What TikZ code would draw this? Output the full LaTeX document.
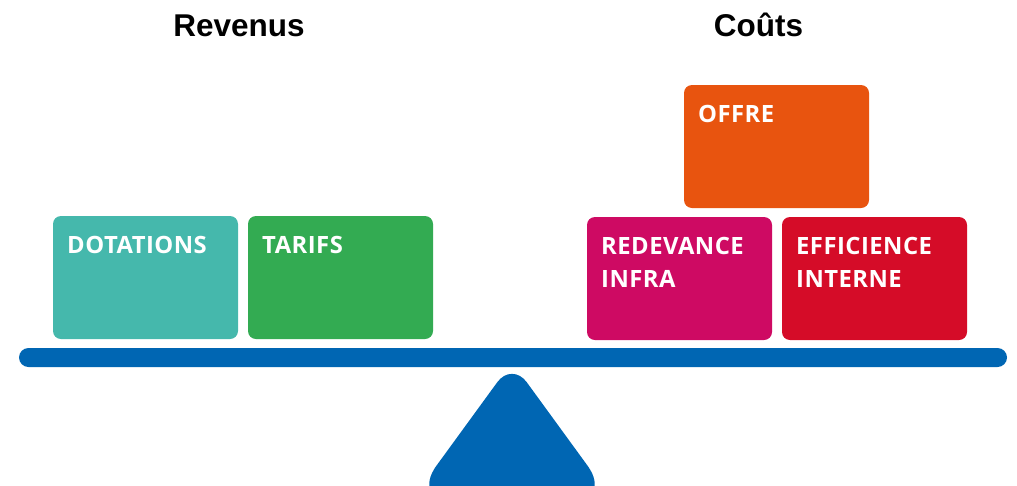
\documentclass[tikz,border=0pt]{standalone}
\usepackage{fontspec}
\setmainfont{Liberation Sans}
\newfontfamily\boxfont[LetterSpace=2]{Open Sans}
\definecolor{cteal}{HTML}{45B8AC}
\definecolor{cgreen}{HTML}{33AB52}
\definecolor{corange}{HTML}{E8540F}
\definecolor{cmagenta}{HTML}{CE0A63}
\definecolor{cred}{HTML}{D50C28}
\definecolor{cblue}{HTML}{0066B3}
\begin{document}
\begin{tikzpicture}[x=1pt,y=-1pt,
  block/.style={rounded corners=8pt, inner sep=0pt, outer sep=0pt,
    minimum width=185pt, minimum height=123pt},
  blocktext/.style={anchor=north west, inner sep=0pt, text=white,
    font=\boxfont\bfseries\fontsize{23.8}{33}\selectfont, align=left},
  title/.style={anchor=base, inner sep=0pt,
    font=\bfseries\fontsize{31.5}{36}\selectfont}]
\useasboundingbox (0,0) rectangle (1017,485);
% titles
\node[title] (trev) at (239,36) {Revenus};
\node[title] (tcout) at (758.5,36) {Coûts};
% blocks
\node[block, fill=cteal, anchor=north west] (dot) at (53,216) {};
\node[block, fill=cgreen, anchor=north west] (tar) at (248,216) {};
\node[block, fill=corange, anchor=north west] (off) at (684,85) {};
\node[block, fill=cmagenta, anchor=north west] (red) at (587,217) {};
\node[block, fill=cred, anchor=north west] (eff) at (782,217) {};
% texts
\node[blocktext] (tdot) at ([xshift=14pt,yshift=-20pt]dot.north west) {DOTATIONS};
\node[blocktext] (ttar) at ([xshift=14pt,yshift=-20pt]tar.north west) {TARIFS};
\node[blocktext] (toff) at ([xshift=14pt,yshift=-20pt]off.north west) {OFFRE};
\node[blocktext] (tred) at ([xshift=14pt,yshift=-20pt]red.north west) {REDEVANCE\\INFRA};
\node[blocktext] (teff) at ([xshift=14pt,yshift=-20pt]eff.north west) {EFFICIENCE\\INTERNE};
% beam
\fill[cblue, rounded corners=9.5pt] (19,348) rectangle (1007,367);
% fulcrum
\fill[cblue] (461,432) [rounded corners=25pt] -- (512,362) -- (563,432)
  [rounded corners=45pt] -- (614,502) -- (410,502) -- cycle;
\end{tikzpicture}
\end{document}
